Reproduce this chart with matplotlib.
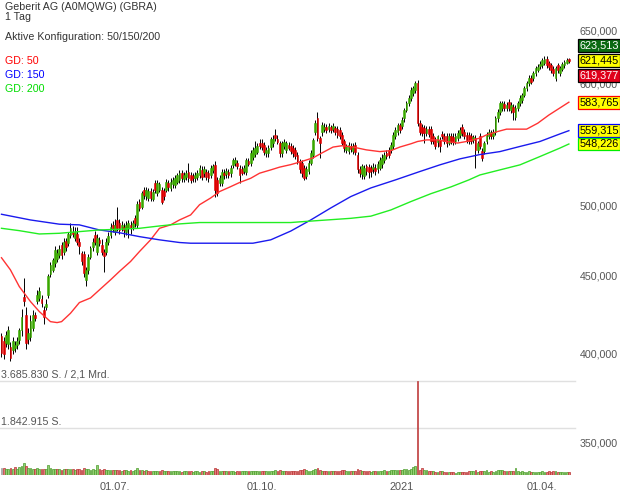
import numpy as np
import pandas as pd
import matplotlib
matplotlib.use('Agg')
import matplotlib.pyplot as plt
from matplotlib.ticker import FixedLocator, FuncFormatter, NullLocator

plt.rcParams['font.family'] = ['Liberation Sans', 'DejaVu Sans']

# daily candles, Geberit AG, CHF
opens = [411, 408, 406.5, 406, 404, 402.5, 403.5, 405.5, 408.5, 414.5,
         435.5, 424, 409, 410, 416, 424, 432.7, 435, 434, 427.5,
         429, 437, 451, 454, 458.5, 461, 464, 470.8, 466.4, 474,
         472.3, 478.3, 480.6, 476, 479, 473.5, 465.2, 465, 447, 453.8,
         462.8, 469.5, 478.3, 466.4, 474.7, 471, 466.4, 466.4, 473.5, 478.3,
         485.4, 480, 488.8, 486.5, 483, 484.2, 480, 483, 485.4, 484.2,
         490.3, 485.4, 502.8, 499, 511.7, 506.7, 505.4, 510.5, 505, 516.8,
         509, 511.7, 511.7, 510.5, 511.7, 516.8, 513, 516, 515.5, 518,
         519, 524.5, 520, 522, 525.8, 523.3, 522.5, 521, 522, 523.3,
         527.3, 524.5, 525.8, 524.5, 523.3, 527.3, 531.3, 519.5, 517, 517,
         525, 523.8, 525.8, 524.5, 531.3, 532.6, 532.6, 528.6, 527.8, 526.5,
         525.8, 534, 532.6, 537.3, 540, 542, 548.9, 548.9, 547.5, 540.7,
         540.7, 545.6, 548.9, 555.7, 552.2, 548.9, 540.7, 546.3, 543.6, 547.6,
         546.8, 544.9, 543.6, 539.6, 534.2, 532.9, 529, 522.4, 526.3, 532.9,
         539.6, 558.6, 569.8, 553.1, 557.8, 560.5, 562, 560.7, 562, 560.7,
         561.4, 560.5, 560, 555.8, 550.3, 543.6, 542.2, 546.8, 542.2, 547.6,
         539.6, 528.2, 523.7, 522.4, 530.3, 529.5, 529, 527.7, 529, 527.7,
         529, 531.6, 535.6, 540.9, 543.6, 543.6, 546.2, 554.5, 558.6, 564.2,
         563.5, 569.8, 577, 582.8, 587.2, 591.6, 594.6, 600.6, 565.6, 562.3,
         561.4, 557.2, 560.8, 560.8, 554.5, 551.7, 549.5, 551.7, 556.4, 554.5,
         555, 549, 554.5, 554, 550.3, 553.1, 555.8, 562.3, 558.6, 555.8,
         555.8, 554.5, 551.2, 553.1, 543.6, 554.5, 542.2, 542.2, 550.3, 554.5,
         557.2, 554.5, 558.6, 569.8, 575.5, 578.4, 582.2, 578.4, 584.2, 577,
         579.8, 570.7, 578.4, 582.8, 585.7, 590.1, 596.1, 600.6, 605.1, 605.1,
         609.7, 612.7, 616, 617.3, 619, 623.2, 619, 617.3, 614, 605.1,
         617.3, 609.7, 614, 617.3, 619.5, 622.6]
highs = [413, 410, 414, 417, 407, 410, 408, 410, 416, 428,
         448, 429, 416, 424, 427, 426, 440, 442, 437, 430,
         434, 451, 459, 462, 470, 468, 471, 473, 476, 476,
         480, 487, 485, 484, 484, 476, 467, 467, 456, 465,
         470, 476, 481, 479, 477, 475, 468, 476, 480, 487,
         488, 490, 499, 490, 488, 487, 488, 489, 488, 489,
         493, 503, 505, 511, 514, 514, 513, 513, 512, 519,
         519, 518, 514, 513, 520, 519, 521, 522, 523, 525,
         527, 527, 526, 527, 533, 526, 525, 526, 527, 531,
         530, 530, 528, 527, 531, 532, 534, 522, 523, 528,
         528, 529, 528, 531, 537, 538, 535, 531, 530, 531,
         537, 537, 543, 546, 551, 549, 552, 552, 550, 546,
         547, 554, 556, 561, 556, 551, 551, 552, 551, 550,
         549, 547, 546, 542, 536, 535, 531, 530, 535, 543,
         553, 568, 575, 555, 567, 566, 565, 566, 564, 566,
         563, 563, 562, 558, 552, 548, 550, 549, 549, 550,
         542, 530, 532, 531, 532, 532, 531, 533, 532, 534,
         538, 540, 542, 543, 546, 550, 558, 562, 566, 566,
         571, 579, 585, 590, 597, 598, 603, 604, 568, 565,
         564, 563, 563, 563, 557, 554, 556, 554, 559, 557,
         557, 557, 557, 557, 557, 560, 562, 565, 561, 558,
         558, 557, 556, 556, 551, 557, 545, 551, 558, 561,
         560, 561, 572, 578, 585, 585, 585, 584, 587, 584,
         582, 581, 585, 590, 592, 598, 603, 608, 608, 612,
         616, 618, 621, 624, 626, 626, 621, 619, 616, 616,
         619, 616, 620, 622, 624, 623.513]
lows = [398, 397, 404, 403, 395.5, 400, 401, 403, 406, 411,
        430, 403, 406, 408, 414, 420, 431, 433, 429, 418,
        427, 435, 449, 452, 456, 459, 462, 461, 464, 467,
        470, 476, 477, 474, 471, 465, 457, 449, 443, 451,
        461, 467, 471, 464, 470, 464, 452, 464, 471, 476,
        480, 478, 481, 479, 481, 477, 478, 476, 479, 482,
        484, 483, 496, 497, 505, 504, 503, 503, 503, 509,
        507, 510, 501, 504, 510, 511, 511, 513, 513, 516,
        517, 518, 518, 519, 518, 517, 518, 518, 519, 521,
        519, 522, 519, 518, 521, 525, 506, 507, 515, 515,
        520, 521, 521, 522, 529, 530, 528, 517, 523, 524,
        523, 530, 530, 535, 538, 540, 544, 543, 539, 538,
        538, 543, 546, 551, 548, 538, 538, 544, 541, 543,
        540, 538, 536, 532, 525, 522, 519, 520, 524, 531,
        537, 556, 551, 537, 555, 558, 557, 558, 557, 558,
        556, 553, 552, 547, 542, 541, 540, 542, 540, 539,
        525, 522, 520, 520, 523, 521, 522, 525, 523, 525,
        527, 529, 533, 536, 537, 541, 544, 552, 556, 557,
        561, 567, 575, 580, 585, 589, 592, 563, 556, 555,
        549, 555, 554, 548, 548, 544, 546, 542, 552, 548,
        546, 547, 548, 547, 548, 551, 553, 555, 552, 549,
        548, 548, 549, 529, 541, 544, 534, 540, 548, 552,
        552, 552, 556, 567, 573, 576, 576, 576, 576, 574,
        568, 568, 576, 580, 583, 588, 594, 598, 600, 603,
        607, 611, 614, 615, 617, 615, 613, 610, 607, 603,
        610, 607, 612, 615, 618, 619.377]
closes = [400.5, 400, 411.7, 414.5, 397.5, 407.5, 405.5, 407.5, 414.5, 423,
          432.7, 406.5, 412.7, 420, 424, 422, 437, 439.5, 431.5, 422.5,
          431, 449.3, 457, 460.6, 467.5, 465.5, 468.5, 463.7, 473.5, 469.5,
          479, 483, 479, 480.6, 473.5, 470, 459.5, 451.6, 453.8, 462.8,
          468.7, 473.5, 473.5, 476, 472.3, 466.4, 463, 473.5, 477.6, 484.2,
          482.3, 485.4, 483, 481.8, 485.4, 481.8, 485.4, 486.6, 483, 486.6,
          486.6, 501, 498, 509.2, 508, 511.7, 510.5, 505.4, 510, 511.7,
          516.8, 516, 502.8, 506.7, 518, 514, 518, 519, 520.6, 523,
          524.5, 521, 523, 524.5, 521, 519.5, 521, 523, 524.5, 528.6,
          522, 527.8, 522, 520.6, 528.6, 530, 511.7, 509.2, 520.6, 526,
          523.3, 526.8, 523.3, 528.6, 535.3, 535.3, 530.6, 523.3, 525.2, 528.6,
          535.3, 532, 540.7, 543.4, 544.7, 546.3, 546.3, 545.6, 542, 543.4,
          544.7, 552.2, 552.2, 553, 550, 540.7, 548.9, 549.6, 549, 544.9,
          542.2, 540.9, 538.2, 534.2, 527.7, 525, 521.1, 527.7, 532.9, 540.9,
          551.7, 566.2, 553.1, 549, 564.2, 562.5, 559.6, 563.5, 559.6, 563,
          558.6, 555.8, 554.5, 549, 544.9, 546.2, 547.6, 544.1, 546.8, 541.4,
          527.7, 525, 530.3, 529, 526.3, 525.5, 526.3, 529.8, 526.3, 531.6,
          535.6, 536.9, 539.6, 538.2, 539.6, 547.6, 555.8, 560, 564.2, 560,
          568.4, 576.8, 582.8, 587.2, 594.6, 596.1, 600.6, 565.6, 558.6, 557.2,
          557.2, 560.8, 556.6, 550.3, 550.3, 546.2, 554.5, 546.2, 554.5, 550.3,
          549, 554.5, 550.3, 549.5, 554.5, 557.2, 560, 557.2, 554.5, 551.7,
          550.3, 550.3, 553.9, 543.6, 549, 546.2, 536.9, 549, 555.8, 558.6,
          554.5, 558.6, 569.8, 575.5, 582.8, 582.8, 578.4, 581.4, 578.4, 581.4,
          575.5, 578.4, 582.8, 587.2, 590.1, 596.1, 600.6, 605.1, 602.1, 609.7,
          614.2, 615.9, 618.6, 622, 623, 617.3, 615.9, 612.7, 609.7, 614.2,
          612.7, 614.2, 618, 620.3, 622, 621.445]
# shares traded per day (thousands)
volumes = [290, 260, 230, 250, 280, 220, 300, 240, 310, 360,
           455, 350, 260, 270, 240, 230, 260, 240, 220, 250,
           230, 380, 260, 240, 230, 250, 220, 210, 230, 240,
           220, 250, 230, 210, 240, 220, 200, 260, 250, 230,
           210, 220, 200, 380, 230, 210, 220, 200, 190, 210,
           200, 180, 210, 190, 170, 200, 180, 160, 190, 170,
           180, 260, 200, 190, 170, 180, 160, 150, 170, 160,
           150, 170, 200, 160, 150, 140, 160, 150, 170, 140,
           150, 130, 140, 160, 150, 140, 130, 150, 140, 130,
           160, 140, 130, 150, 140, 160, 280, 220, 160, 170,
           150, 140, 160, 140, 150, 130, 140, 170, 150, 140,
           160, 140, 150, 160, 170, 150, 140, 160, 150, 140,
           150, 160, 170, 180, 150, 190, 170, 160, 150, 140,
           150, 140, 160, 170, 190, 200, 230, 180, 170, 160,
           200, 250, 280, 190, 170, 160, 150, 140, 160, 150,
           140, 160, 170, 180, 190, 160, 150, 140, 150, 160,
           230, 180, 170, 160, 140, 150, 130, 140, 150, 160,
           170, 160, 180, 150, 160, 190, 200, 210, 190, 180,
           200, 220, 230, 210, 240, 300, 370, 3685.83, 200, 260,
           200, 180, 150, 140, 160, 130, 120, 150, 140, 110,
           120, 110, 100, 110, 90, 100, 120, 110, 100, 120,
           150, 170, 140, 200, 130, 150, 160, 170, 180, 130,
           140, 120, 150, 200, 180, 190, 160, 170, 150, 160,
           150, 290, 140, 130, 140, 120, 130, 140, 120, 130,
           120, 130, 110, 140, 130, 120, 150, 130, 170, 140,
           130, 120, 110, 120, 100, 110]
volumes = [v * 1000 for v in volumes]

# moving averages (candle index, value)
gd50_idx = [0, 4, 8, 13, 17, 22, 25, 27, 31, 35, 40, 44, 49, 53, 58, 62, 67, 71, 76, 80,
            85, 89, 94, 98, 103, 107, 112, 116, 121, 125, 130, 134, 140, 144, 149, 153, 158, 164, 170, 175,
            179, 184, 187, 191, 196, 200, 205, 209, 215, 218, 223, 227, 236, 241, 246, 255]
gd50 = [462.1, 453.8, 442.5, 432.7, 426.2, 419.8, 419.2, 419.8, 425.1, 432.0,
        435.0, 440.3, 447.0, 452.7, 459.5, 466.4, 474.7, 483.0, 485.5, 489.1,
        492.8, 500.4, 505.5, 510.4, 514.2, 517.4, 520.7, 524.7, 527.3, 529.5,
        531.5, 533.5, 536.9, 540.9, 545.7, 546.8, 545.7, 543.4, 542.0, 542.8,
        545.7, 548.4, 550.3, 551.6, 551.6, 550.3, 549.0, 550.3, 553.1, 555.8,
        558.6, 560.6, 560.6, 565.6, 572.6, 583.765]
gd150_idx = [0, 13, 26, 35, 44, 53, 62, 71, 80, 85, 113, 121, 130, 139, 148, 157, 166, 177,
             188, 197, 206, 215, 224, 233, 242, 251, 255]
gd150 = [493.3, 489.1, 486.0, 485.5, 481.8, 479.8, 477.0, 474.7, 472.8, 472.3,
         472.3, 474.7, 481.0, 489.1, 498.0, 506.6, 513.2, 519.4, 526.0, 531.3,
         536.1, 539.6, 542.0, 546.2, 550.3, 556.6, 559.315]
gd200_idx = [0, 8, 17, 26, 35, 44, 53, 62, 71, 80, 89, 130, 134, 157, 166, 175, 184, 193,
             202, 210, 215, 224, 233, 242, 251, 255]
gd200 = [483.0, 481.3, 478.9, 479.4, 480.6, 481.8, 482.3, 483.0, 484.7, 486.2,
         487.2, 487.2, 487.7, 490.3, 491.9, 496.5, 502.8, 508.8, 514.0, 519.4,
         523.3, 527.3, 531.3, 538.0, 544.9, 548.226]

price_ticks = [350, 400, 450, 500, 550, 600, 650]
holidays = ['2020-05-01', '2020-05-21', '2020-06-01', '2020-12-24', '2020-12-25',
            '2020-12-31', '2021-01-01', '2021-04-02', '2021-04-05']
dates = pd.bdate_range('2020-04-16', periods=len(closes), freq='C', holidays=holidays)

W, H = 620, 496
fig = plt.figure(figsize=(6.2, 4.96), dpi=100)


def px(x0, y0, x1, y1):
    return [x0 / W, 1 - y1 / H, (x1 - x0) / W, (y1 - y0) / H]


def de(v):
    return f'{v:.3f}'.replace('.', ',')


ax = fig.add_axes(px(0, 20, 575, 475))
axv = fig.add_axes(px(0, 381, 575, 475), sharex=ax)
axv.set_facecolor('none')

o = np.array(opens)
h = np.array(highs)
l = np.array(lows)
c = np.array(closes)
x = np.arange(len(c))
up = c >= o
body_col = np.where(up, '#3aa800', '#dd0000')

# candles
ax.vlines(x, l, h, color='black', lw=0.7, zorder=2)
ax.bar(x, np.maximum(np.abs(c - o), 0.7), bottom=np.minimum(o, c), width=0.8,
       color=body_col, edgecolor=body_col, linewidth=0.4, zorder=3)

# moving averages
ax.plot(gd50_idx, gd50, color='#ff3333', lw=1.0, zorder=4)
ax.plot(gd150_idx, gd150, color='#1a1aee', lw=1.0, zorder=4)
ax.plot(gd200_idx, gd200, color='#22ee22', lw=1.0, zorder=4)

ax.set_yscale('log')
ax.set_ylim(333.4, 660.5)
ax.set_xlim(-0.67, 257.75)
ax.yaxis.set_major_locator(FixedLocator(price_ticks))
ax.yaxis.set_minor_locator(NullLocator())
ax.yaxis.set_major_formatter(FuncFormatter(lambda v, p: de(v)))
ax.yaxis.tick_right()
ax.tick_params(axis='y', length=0, pad=3.6, labelsize=7.7, labelcolor='#555555')
ax.tick_params(axis='x', bottom=False, labelbottom=False)
for s in ax.spines.values():
    s.set_visible(False)

# value boxes at right
def box(val, dy, fc, ec, tc):
    ax.annotate(de(val), xy=(1.0, val), xycoords=('axes fraction', 'data'),
                xytext=(3.1, dy * 0.72), textcoords='offset points',
                ha='left', va='center', fontsize=7.8, color=tc, zorder=10,
                annotation_clip=False,
                bbox=dict(boxstyle='square,pad=0.13', fc=fc, ec=ec, lw=0.9))

box(gd50[-1], 0, '#ffff00', '#ff0000', 'black')
box(gd150[-1], 0, '#ffff00', '#0000ff', 'black')
box(gd200[-1], 0, '#ffff00', '#00ee00', 'black')
box(closes[-1], 0, '#ffff00', 'black', 'black')
box(highs[-1], 13, '#0a6a12', 'black', 'white')
box(lows[-1], -13, '#e0001b', 'black', 'white')

# volume panel
vol = np.array(volumes)
vmax = vol.max()
fills, edges = [], []
for i in range(len(vol)):
    if i == 0:
        fills.append('#c8c8c8'); edges.append('#999999')
    elif c[i] >= c[i - 1]:
        fills.append('#92cf72'); edges.append('#4c9c2c')
    else:
        fills.append('#e27c7c'); edges.append('#b83232')
axv.bar(x, vol, width=0.8, color=fills, edgecolor=edges, linewidth=0.5, zorder=3)
axv.set_ylim(0, vmax)
for lv in (vmax, vmax / 2):
    axv.axhline(lv, color='#e0e0e0', lw=1.0, zorder=1, clip_on=False)
axv.set_yticks([])
for s in axv.spines.values():
    s.set_visible(False)

vtxt = f'{vmax:,.0f}'.replace(',', '.')
htxt = f'{vmax / 2:,.0f}'.replace(',', '.')
axv.annotate(vtxt + ' S. / 2,1 Mrd.', xy=(0, vmax), xycoords=('axes fraction', 'data'),
             xytext=(1, 2.5), textcoords='offset points', va='baseline',
             fontsize=7.7, color='#555555', annotation_clip=False)
axv.annotate(htxt + ' S.', xy=(0, vmax / 2), xycoords=('axes fraction', 'data'),
             xytext=(1, 2.5), textcoords='offset points', va='baseline',
             fontsize=7.7, color='#555555', annotation_clip=False)

# date ticks at quarter starts
ticks, labels = [], []
for i in range(1, len(dates)):
    m = dates[i].month
    if m != dates[i - 1].month and m in (1, 4, 7, 10):
        ticks.append(i)
        labels.append(str(dates[i].year) if m == 1 else f'01.{m:02d}.')
axv.set_xticks(ticks)
axv.set_xticklabels(labels)
axv.tick_params(axis='x', length=0, pad=5, labelsize=7.9, labelcolor='#555555')

# header and legend
def ftxt(xp, yp, s, color='#333333'):
    fig.text(xp / W, 1 - yp / H, s, va='baseline', ha='left', fontsize=7.7, color=color)

ftxt(5, 10, 'Geberit AG (A0MQWG) (GBRA)')
ftxt(5, 19.5, '1 Tag')
ftxt(5, 39.5, 'Aktive Konfiguration: 50/150/200')
ftxt(5, 64, 'GD: 50', '#ff0000')
ftxt(5, 78, 'GD: 150', '#0000ff')
ftxt(5, 92, 'GD: 200', '#00dd00')

fig.savefig('out.png', dpi=100, facecolor='white')
